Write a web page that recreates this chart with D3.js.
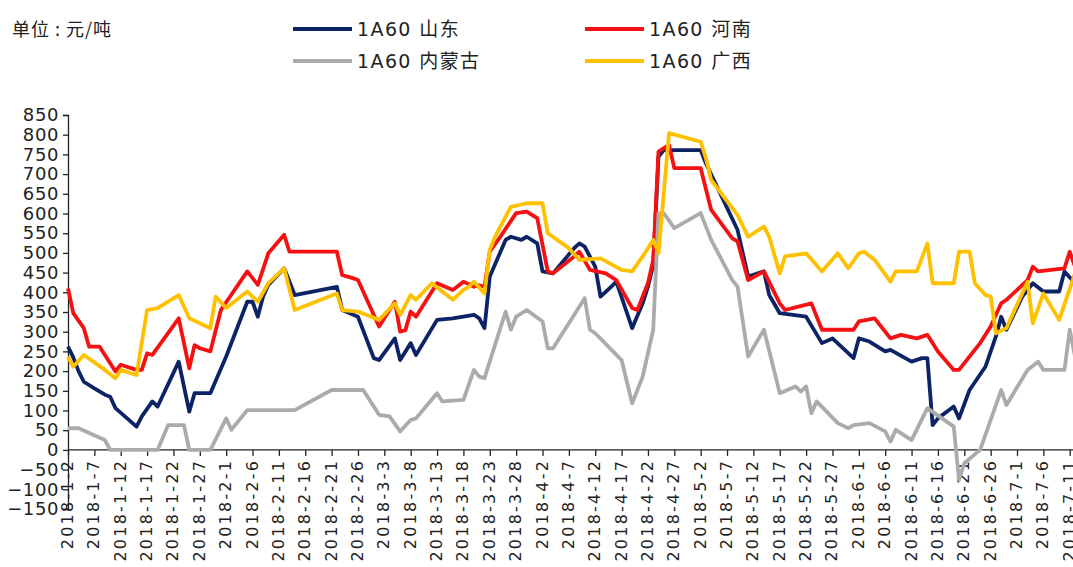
<!DOCTYPE html>
<html>
<head>
<meta charset="utf-8">
<script src="https://cdn.jsdelivr.net/npm/d3@7"></script>
<style>
  body { margin: 0; background: #fff; }
  svg { display: block; }
  .ax text { font-family: "DejaVu Sans", "Noto Sans CJK SC", sans-serif; fill: #222; }
</style>
</head>
<body>
<svg id="chart" width="1073" height="567"></svg>
<script>
// series names (legend order)
var seriesNames = ["1A60 山东", "1A60 河南", "1A60 内蒙古", "1A60 广西"]
var seriesColors = ["#0c2466", "#f51111", "#ababab", "#ffc000"]

var yTicks = [-150, -100, -50, 0, 50, 100, 150, 200, 250, 300, 350, 400, 450, 500, 550, 600, 650, 700, 750, 800, 850]

var xTickLabels = ["2018-1-2", "2018-1-7", "2018-1-12", "2018-1-17", "2018-1-22", "2018-1-27",
  "2018-2-1", "2018-2-6", "2018-2-11", "2018-2-16", "2018-2-21", "2018-2-26",
  "2018-3-3", "2018-3-8", "2018-3-13", "2018-3-18", "2018-3-23", "2018-3-28",
  "2018-4-2", "2018-4-7", "2018-4-12", "2018-4-17", "2018-4-22", "2018-4-27",
  "2018-5-2", "2018-5-7", "2018-5-12", "2018-5-17", "2018-5-22", "2018-5-27",
  "2018-6-1", "2018-6-6", "2018-6-11", "2018-6-16", "2018-6-21", "2018-6-26",
  "2018-7-1", "2018-7-6", "2018-7-11"]

// 山东
var shandong = [["1-2",262],["1-3",235],["1-4",200],["1-5",173],["1-7",156],["1-9",140],["1-10",135],["1-11",106],
  ["1-15",59],["1-16",85],["1-18",123],["1-19",110],["1-23",224],["1-25",97],["1-26",144],["1-29",144],
  ["2-1",237],["2-5",376],["2-6",376],["2-7",338],["2-8",389],["2-9",419],["2-12",461],["2-14",393],
  ["2-22",414],["2-23",355],["2-26",338],["3-1",233],["3-2",228],["3-5",283],["3-6",228],["3-8",271],
  ["3-9",241],["3-13",330],["3-16",334],["3-20",343],["3-21",334],["3-22",309],["3-23",440],["3-26",533],
  ["3-27",541],["3-29",533],["3-30",541],["4-1",524],["4-2",453],["4-4",448],["4-8",512],["4-9",524],
  ["4-10",516],["4-12",465],["4-13",389],["4-15",414],["4-16",427],["4-19",309],["4-21",372],["4-22",414],
  ["4-23",470],["4-24",744],["4-25",761],["5-2",761],["5-3",727],["5-6",643],["5-9",558],["5-11",440],
  ["5-14",453],["5-15",393],["5-17",347],["5-22",338],["5-25",271],["5-27",283],["5-31",233],["6-1",283],
  ["6-3",275],["6-6",250],["6-7",254],["6-11",224],["6-13",233],["6-14",233],["6-15",63],["6-16",80],
  ["6-19",110],["6-20",80],["6-22",152],["6-25",211],["6-27",288],["6-28",338],["6-29",305],["7-2",389],
  ["7-4",423],["7-6",402],["7-9",402],["7-10",453],["7-12",423]]

// 河南
var henan = [["1-2",410],["1-3",347],["1-5",309],["1-6",262],["1-8",262],["1-11",199],["1-12",216],["1-15",203],
  ["1-16",203],["1-17",245],["1-18",241],["1-23",334],["1-25",207],["1-26",266],["1-27",258],["1-29",250],
  ["1-31",355],["2-5",453],["2-7",419],["2-9",499],["2-12",546],["2-13",503],["2-22",503],["2-23",444],
  ["2-25",436],["2-26",431],["3-2",313],["3-5",376],["3-6",300],["3-7",304],["3-8",351],["3-9",338],
  ["3-13",423],["3-16",406],["3-18",427],["3-20",414],["3-21",418],["3-22",414],["3-23",503],["3-25",541],
  ["3-28",601],["3-30",605],["4-1",588],["4-3",453],["4-4",448],["4-8",491],["4-9",503],["4-11",457],
  ["4-14",448],["4-16",431],["4-19",360],["4-20",355],["4-22",423],["4-23",482],["4-24",757],["4-26",774],
  ["4-27",715],["5-2",715],["5-4",609],["5-8",537],["5-9",529],["5-11",431],["5-14",453],["5-17",372],
  ["5-18",355],["5-23",372],["5-25",305],["5-31",305],["6-1",326],["6-4",334],["6-7",283],["6-9",292],
  ["6-12",283],["6-14",292],["6-16",250],["6-19",203],["6-20",203],["6-24",271],["6-26",313],["6-28",372],
  ["6-29",381],["7-3",431],["7-4",465],["7-5",453],["7-10",461],["7-11",503],["7-12",465]]

// 内蒙古
var neimenggu = [["1-2",55],["1-4",55],["1-9",25],["1-10",0],["1-19",0],["1-21",63],["1-24",63],["1-25",0],
  ["1-29",0],["2-1",80],["2-2",51],["2-5",101],["2-14",101],["2-21",152],["2-27",152],["3-2",89],
  ["3-4",85],["3-6",47],["3-8",76],["3-9",80],["3-13",144],["3-14",123],["3-18",127],["3-20",203],
  ["3-21",186],["3-22",182],["3-26",351],["3-27",305],["3-28",338],["3-30",355],["4-2",326],["4-3",258],
  ["4-4",258],["4-10",385],["4-11",305],["4-12",296],["4-17",228],["4-19",118],["4-21",186],["4-23",305],
  ["4-24",601],["4-25",601],["4-27",563],["5-2",601],["5-4",533],["5-8",431],["5-9",414],["5-11",237],
  ["5-14",305],["5-17",144],["5-20",161],["5-21",148],["5-22",161],["5-23",93],["5-24",123],["5-28",68],
  ["5-30",55],["5-31",63],["6-3",68],["6-6",47],["6-7",21],["6-8",51],["6-11",25],["6-14",106],
  ["6-19",59],["6-20",-76],["6-21",-34],["6-24",0],["6-28",152],["6-29",114],["7-3",203],["7-5",224],
  ["7-6",203],["7-10",203],["7-11",305],["7-12",237]]

// 广西
var guangxi = [["1-2",237],["1-3",211],["1-5",241],["1-9",203],["1-11",182],["1-12",203],["1-15",190],["1-17",355],
  ["1-19",360],["1-23",393],["1-25",334],["1-29",309],["1-30",389],["2-1",360],["2-5",402],["2-7",376],
  ["2-9",423],["2-12",461],["2-14",355],["2-22",397],["2-23",355],["2-26",351],["3-2",330],["3-5",372],
  ["3-6",343],["3-8",393],["3-9",381],["3-12",423],["3-16",381],["3-18",406],["3-19",414],["3-20",427],
  ["3-22",397],["3-23",508],["3-24",541],["3-27",617],["3-30",626],["4-2",626],["4-3",550],["4-7",512],
  ["4-9",482],["4-13",486],["4-17",457],["4-19",453],["4-21",491],["4-23",533],["4-24",499],["4-26",804],
  ["5-2",782],["5-3",740],["5-4",685],["5-9",596],["5-11",541],["5-14",567],["5-15",541],["5-17",448],
  ["5-18",491],["5-22",499],["5-25",453],["5-28",499],["5-30",461],["6-1",499],["6-2",503],["6-4",482],
  ["6-7",427],["6-8",453],["6-12",453],["6-14",524],["6-15",423],["6-19",423],["6-20",503],["6-22",503],
  ["6-23",423],["6-25",393],["6-26",389],["6-27",296],["6-29",309],["7-3",427],["7-4",321],["7-6",397],
  ["7-9",330],["7-12",448]]

var allSeries = [shandong, henan, neimenggu, guangxi]

function parseMD(s)
{
	var p = s.split("-")
	return new Date(Date.UTC(2018, +p[0] - 1, +p[1]))
}
function parseFull(s)
{
	var p = s.split("-")
	return new Date(Date.UTC(+p[0], +p[1] - 1, +p[2]))
}

var svg = d3.select("#chart")

var x = d3.scaleUtc()
	.domain([parseMD("1-2"), parseMD("7-12")])
	.range([68, 1075])
var y = d3.scaleLinear()
	.domain([-150, 850])
	.range([509, 115])

// y axis
var yAxis = svg.append("g")
	.attr("class", "ax")
	.attr("transform", "translate(68,0)")
	.call(d3.axisLeft(y).tickValues(yTicks).tickSize(5).tickPadding(4))
yAxis.selectAll("text")
	.attr("font-size", "18px")
	.attr("letter-spacing", "0.6px")
yAxis.selectAll("line, path").attr("stroke", "#222").attr("stroke-width", 1.3)

// x axis at zero
var xTickDates = xTickLabels.map(parseFull)
var xAxis = svg.append("g")
	.attr("class", "ax")
	.attr("transform", "translate(0," + y(0) + ")")
	.call(d3.axisBottom(x).tickValues(xTickDates).tickSize(6).tickSizeOuter(0)
		.tickFormat(function(d, i) { return xTickLabels[i] }))
xAxis.select(".domain").remove()
xAxis.append("line")
	.attr("x1", 68).attr("x2", 1073)
	.attr("stroke", "#222").attr("stroke-width", 1.3)
xAxis.selectAll("line").attr("stroke", "#222").attr("stroke-width", 1.3)
xAxis.selectAll("text")
	.attr("font-size", "16px")
	.attr("letter-spacing", "2.2px")
	.attr("text-anchor", "end")
	.attr("dy", null)
	.attr("y", null)
	.attr("transform", "translate(-1,9) rotate(-90)")
	.attr("dominant-baseline", "central")

// lines
var line = d3.line()
	.x(function(d) { return x(parseMD(d[0])) })
	.y(function(d) { return y(d[1]) })

allSeries.forEach(function(data, i) {
	svg.append("path")
		.datum(data)
		.attr("fill", "none")
		.attr("stroke", seriesColors[i])
		.attr("stroke-width", 3.8)
		.attr("stroke-linejoin", "round")
		.attr("d", line)
})

// unit label
svg.append("text")
	.attr("x", 12).attr("y", 36)
	.attr("font-family", "\"Noto Sans CJK SC\", sans-serif")
	.attr("font-size", "18px")
	.attr("letter-spacing", "1px")
	.attr("fill", "#222")
	.text("单位 : 元/吨")

// legend
var legendPos = [[293, 29], [585, 29], [293, 61], [585, 61]]
seriesNames.forEach(function(name, i) {
	var p = legendPos[i]
	svg.append("line")
		.attr("x1", p[0]).attr("x2", p[0] + 59)
		.attr("y1", p[1]).attr("y2", p[1])
		.attr("stroke", seriesColors[i])
		.attr("stroke-width", 4)
	svg.append("text")
		.attr("x", p[0] + 64).attr("y", p[1] + 7)
		.attr("font-family", "\"DejaVu Sans\", \"Noto Sans CJK SC\", sans-serif")
		.attr("font-size", "19px")
		.attr("letter-spacing", "1.4px")
		.attr("fill", "#222")
		.text(name)
})
</script>
</body>
</html>
